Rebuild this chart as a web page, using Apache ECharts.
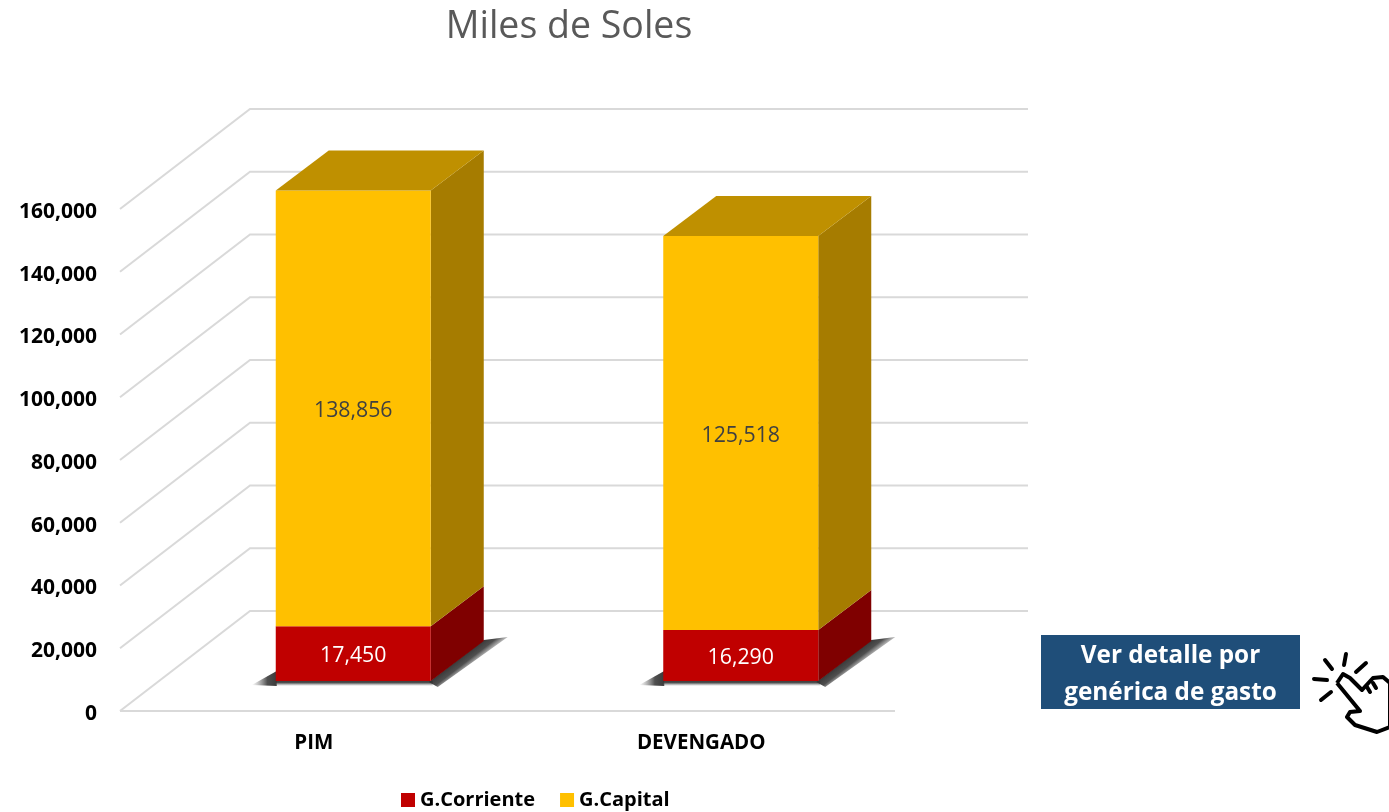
<!DOCTYPE html>
<html>
<head>
<meta charset="utf-8">
<title>Miles de Soles</title>
<style>
  html, body { margin: 0; padding: 0; background: #fff; }
  #chart { width: 1389px; height: 812px; }
</style>
<script src="https://cdn.jsdelivr.net/npm/echarts@6/dist/echarts.min.js"></script>
</head>
<body>
<div id="chart"></div>
<script>
const categories = ['PIM', 'DEVENGADO'];
const corriente = [17450, 16290];
const capital = [138856, 125518];
const yTicks = [0, 20000, 40000, 60000, 80000, 100000, 120000, 140000, 160000];

const FONT = '"Open Sans", sans-serif';
// fake 3D: how far the back wall and the bars are pushed from the front plane
const WALL = [130, -100];
const BAR_FRONT = [39.5, -30];
const BAR_DEPTH = [53, -40];
const BAR_HALF = 77.5;
const GRID_STYLE = { stroke: '#d9d9d9', lineWidth: 2, fill: 'none' };

function poly(points, fill) {
  return { type: 'polygon', shape: { points }, style: { fill } };
}

function fade(x0, y0, x1, y1) {
  return new echarts.graphic.LinearGradient(x0, y0, x1, y1, [
    { offset: 0, color: 'rgba(50,50,50,0.95)' },
    { offset: 0.35, color: 'rgba(60,60,60,0.9)' },
    { offset: 1, color: 'rgba(120,120,120,0)' },
  ], true);
}

function renderWall(params, api) {
  const p = api.coord([0, api.value(0)]);
  const left = params.coordSys.x;
  const right = left + params.coordSys.width;
  return {
    type: 'polyline',
    shape: {
      points: [[left, p[1]], [left + WALL[0], p[1] + WALL[1]], [right + WALL[0] + 3, p[1] + WALL[1]]],
    },
    style: GRID_STYLE,
  };
}

function renderFloorEdge(params, api) {
  const p = api.coord([0, 0]);
  const left = params.coordSys.x;
  return {
    type: 'line',
    shape: { x1: left, y1: p[1], x2: left + params.coordSys.width, y2: p[1] },
    style: GRID_STYLE,
  };
}

// soft contact shadow: one strip left of the bar, one under it, one along its side
function renderShadow(params, api) {
  const p = api.coord([api.value(0), 0]);
  const y = p[1] + BAR_FRONT[1];
  const x0 = p[0] + BAR_FRONT[0] - BAR_HALF;
  const x1 = p[0] + BAR_FRONT[0] + BAR_HALF;
  const [dx, dy] = BAR_DEPTH;
  return {
    type: 'group',
    children: [
      poly([[x0 + 1, y - 10], [x0 - 24, y + 4], [x0 + 1, y + 5]], fade(x0, y, x0 - 24, y)),
      poly([[x0, y], [x1 + 2, y], [x1 + 2, y + 5], [x0, y + 5]], fade(x0, y, x0, y + 5)),
      poly(
        [[x1 - 2, y + 1], [x1 + dx, y + dy - 1], [x1 + dx + 24, y + dy - 4], [x1 + 7, y + 6]],
        // gradient runs square to the bar's bottom side edge
        fade(x1 + dx, y + dy, x1 + dx + 10, y + dy + 13)
      ),
    ],
  };
}

function makeBarRender(front, side, top, labelColor) {
  return function (params, api) {
    const cat = api.value(0);
    const low = api.coord([cat, api.value(1)]);
    const high = api.coord([cat, api.value(2)]);
    const x0 = low[0] + BAR_FRONT[0] - BAR_HALF;
    const x1 = low[0] + BAR_FRONT[0] + BAR_HALF;
    const yLow = low[1] + BAR_FRONT[1];
    const yHigh = high[1] + BAR_FRONT[1];
    const [dx, dy] = BAR_DEPTH;
    const children = [
      poly([[x1, yLow], [x1 + dx, yLow + dy], [x1 + dx, yHigh + dy], [x1, yHigh]], side),
      poly([[x0, yLow], [x1, yLow], [x1, yHigh], [x0, yHigh]], front),
    ];
    if (top) {
      children.push(poly([[x0, yHigh], [x0 + dx, yHigh + dy], [x1 + dx, yHigh + dy], [x1, yHigh]], top));
    }
    children.push({
      type: 'text',
      style: {
        x: (x0 + x1) / 2,
        y: (yLow + yHigh) / 2 + 2.5,
        text: (api.value(2) - api.value(1)).toLocaleString('en-US'),
        fill: labelColor,
        font: '21.3px ' + FONT,
        align: 'center',
        verticalAlign: 'middle',
      },
    });
    return { type: 'group', children };
  };
}

const chart = echarts.init(document.getElementById('chart'), null, { renderer: 'canvas' });

// click-hand icon next to the button, drawn as plain outlines
const handRays = [
  [[1325, 660], [1332, 669]],
  [[1346, 654], [1344, 665]],
  [[1366, 663], [1356, 672]],
  [[1314, 679], [1327, 680]],
  [[1321, 700], [1331, 692]],
  [[1367, 687], [1370, 692]],
  [[1373, 683], [1376, 688]],
];
const handOutline = [
  [1337, 683], [1343, 674], [1350, 678], [1362, 690], [1373, 678], [1383, 677], [1390, 683],
  [1390, 727], [1377, 732], [1355, 725], [1347, 717], [1350, 712], [1360, 711], [1337, 683],
];

chart.setOption({
  animation: false,
  backgroundColor: '#fff',
  title: {
    text: 'Miles de Soles',
    left: 564,
    top: 3,
    textAlign: 'center',
    textStyle: { fontFamily: FONT, fontSize: 37.5, fontWeight: 'normal', color: '#595959' },
  },
  legend: {
    data: ['G.Corriente', 'G.Capital'],
    left: 396,
    top: 785,
    itemWidth: 14,
    itemHeight: 14,
    itemGap: 25,
    icon: 'rect',
    selectedMode: false,
    textStyle: { fontFamily: FONT, fontSize: 20, fontWeight: 'bold', color: '#000' },
  },
  grid: { left: 120, top: 209, width: 775, height: 502 },
  xAxis: {
    type: 'category',
    data: categories,
    axisLine: { show: false },
    axisTick: { show: false },
    axisLabel: { margin: 22, fontFamily: FONT, fontSize: 20.5, fontWeight: 'bold', color: '#000' },
  },
  yAxis: {
    type: 'value',
    min: 0,
    max: 160000,
    interval: 20000,
    axisLine: { show: false },
    axisTick: { show: false },
    splitLine: { show: false },
    axisLabel: {
      margin: 23,
      // rich text so the top padding nudges the digits down onto the tick
      formatter: (v) => '{t|' + v.toLocaleString('en-US') + '}',
      rich: {
        t: { fontFamily: FONT, fontSize: 21, fontWeight: 'bold', color: '#000', padding: [6, 0, 0, 0] },
      },
    },
  },
  series: [
    { type: 'custom', silent: true, z: 1, renderItem: renderWall, data: yTicks.map((v) => [v]), encode: { y: 0 }, clip: false },
    { type: 'custom', silent: true, z: 1, renderItem: renderFloorEdge, data: [[0]], clip: false },
    { type: 'custom', silent: true, z: 2, renderItem: renderShadow, data: categories.map((c, i) => [i]), encode: { x: 0 }, clip: false },
    {
      name: 'G.Corriente',
      type: 'custom',
      z: 3,
      itemStyle: { color: '#c00000' },
      renderItem: makeBarRender('#c00000', '#7f0000', null, '#ffffff'),
      data: categories.map((c, i) => [i, 0, corriente[i]]),
      encode: { x: 0, y: [1, 2] },
      clip: false,
    },
    {
      name: 'G.Capital',
      type: 'custom',
      z: 4,
      itemStyle: { color: '#ffc000' },
      renderItem: makeBarRender('#ffc000', '#a67c00', '#bf9000', '#404040'),
      data: categories.map((c, i) => [i, corriente[i], corriente[i] + capital[i]]),
      encode: { x: 0, y: [1, 2] },
      clip: false,
    },
  ],
  graphic: [
    { type: 'rect', shape: { x: 1041, y: 635, width: 259, height: 74 }, style: { fill: '#1f4e79' } },
    {
      type: 'text',
      style: {
        x: 1170.5,
        y: 675,
        text: 'Ver detalle por\ngenérica de gasto',
        fill: '#fff',
        font: 'bold 24.3px ' + FONT,
        lineHeight: 37,
        align: 'center',
        verticalAlign: 'middle',
      },
    },
    ...handRays.map((points) => ({
      type: 'polyline',
      shape: { points },
      style: { stroke: '#000', lineWidth: 4, lineCap: 'round', fill: 'none' },
    })),
    {
      type: 'polyline',
      shape: { points: handOutline },
      style: { stroke: '#000', lineWidth: 4, lineJoin: 'round', fill: 'none' },
    },
  ],
});
</script>
</body>
</html>
